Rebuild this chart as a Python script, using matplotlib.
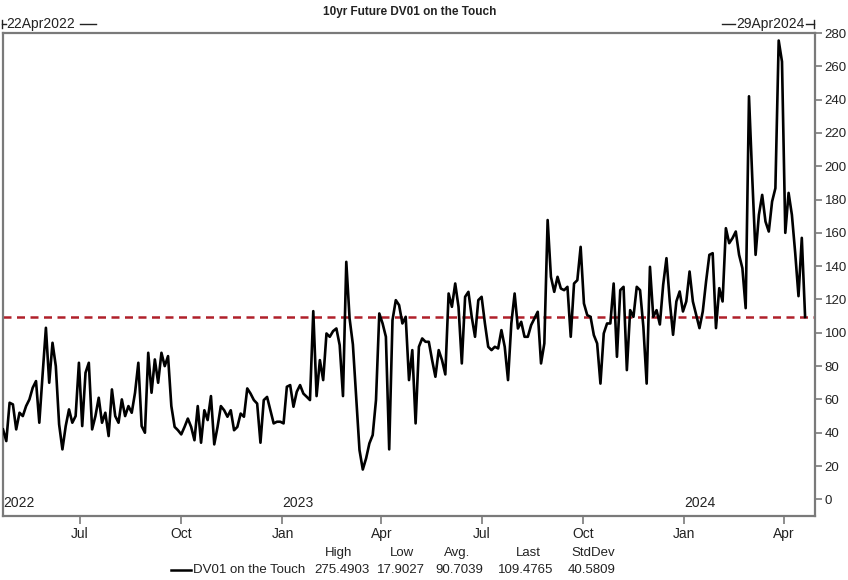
import matplotlib
matplotlib.use("Agg")
import matplotlib.pyplot as plt
import matplotlib.dates as mdates
import matplotlib.transforms as mtransforms
from matplotlib.lines import Line2D
import pandas as pd

plt.rcParams['font.family'] = ['Liberation Sans', 'DejaVu Sans']

# ---------------- data ----------------
title = "10yr Future DV01 on the Touch"
series_name = "DV01 on the Touch"
start_date = "2022-04-22"
axis_start = "2022-04-22"
axis_end = "2024-04-29"
left_range_label = "22Apr2022"
right_range_label = "29Apr2024"

values = [
    42, 35, 58, 57, 42, 52, 50, 56, 60, 67,
    71, 46, 75, 103, 70, 94, 80, 45, 30, 44,
    54, 46, 50, 82, 44, 76, 82, 42, 50, 61,
    46, 52, 38, 66, 50, 46, 60, 50, 56, 52,
    64, 82, 44, 40, 88, 64, 84, 70, 88, 80,
    86, 56, 43.5, 41.5, 39, 43.5, 48.5, 43.5, 35.5, 56,
    34, 53.5, 47.6, 62, 33, 43.5, 56, 53.5, 49.6, 53.5,
    41.5, 43.5, 51.5, 49.6, 66.6, 63.5, 59.6, 57.5, 34, 59.6,
    61.5, 53.5, 45.6, 46.6, 46.6, 45.6, 67.6, 68.6, 55.6, 64.6,
    68.6, 63.5, 61.6, 59.6, 113, 62, 83.6, 71.6, 99.6, 97.6,
    101, 102.6, 92.6, 62, 142.6, 108.6, 93, 61.6, 29.6, 17.9027,
    24.6, 33.6, 38.6, 59.6, 111.6, 105.6, 97.6, 30, 107.6, 119.6,
    116.6, 105.6, 109.6, 71.6, 89.6, 45.6, 91.6, 96.6, 94.6, 94.6,
    83.6, 73.6, 89.6, 83.6, 75, 123.6, 115.6, 129.6, 115.6, 81.6,
    121.6, 124.6, 109.6, 97.6, 119.6, 121.6, 105.6, 91.6, 89.6, 91.6,
    90.6, 101.6, 91.6, 71.6, 105.6, 123.6, 102.6, 106.6, 97.6, 97.6,
    104.6, 108.6, 112.6, 81.6, 93.6, 167.7, 133.6, 124.6, 133.6, 126.6,
    125.6, 127.6, 97.6, 129.6, 131.6, 151.6, 117.6, 110.6, 109.6, 98.6,
    93.6, 69.5, 99.6, 105.6, 105.6, 129.6, 85.6, 125.6, 127.6, 77.6,
    113.6, 109.6, 127.6, 125.6, 103.6, 69.5, 139.6, 109.6, 113.6, 105,
    128.8, 144.8, 118.8, 98.8, 118.8, 124.8, 112.8, 118.8, 136.8, 118.8,
    110.8, 102.8, 112.8, 130.8, 146.8, 147.8, 102.8, 126.8, 118.8, 162.8,
    153.8, 156.8, 160.8, 146.8, 138.8, 114.8, 242, 192.8, 146.8, 170.8,
    182.8, 166.8, 160.8, 178.8, 186.8, 275.4903, 262.8, 160, 184, 170.8,
    148, 122, 157, 109.4765,
]
dates = pd.date_range(start_date, periods=len(values), freq="3D")

reference_level = 109.4765
y_ticks = list(range(0, 281, 20))
years = [2022, 2023, 2024]
stat_names = ["High", "Low", "Avg.", "Last", "StdDev"]
stat_values = ["275.4903", "17.9027", "90.7039", "109.4765", "40.5809"]

# ---------------- figure ----------------
W, H = 848, 580
fig = plt.figure(figsize=(W / 100, H / 100), dpi=100)
fig.patch.set_facecolor("white")


def fx(px):
    return px / W


def fy(py):
    return 1 - py / H


ax_l, ax_r, ax_t, ax_b = 3, 815, 33, 516
ax = fig.add_axes([fx(ax_l), fy(ax_b), fx(ax_r - ax_l), (ax_b - ax_t) / H])

spine_col = "#7a7a7a"
text_col = "#222222"

ax.plot(dates, values, color="black", lw=1.9, solid_joinstyle="round", zorder=3)
ax.axhline(reference_level, color="#b0202a", lw=1.8, ls=(0, (3.2, 2.2)), zorder=2)

ax.set_xlim(pd.Timestamp(axis_start), pd.Timestamp(axis_end))
ax.set_ylim(-10, 280)

ax.yaxis.tick_right()
ax.set_yticks(y_ticks)
ax.tick_params(axis="y", which="both", direction="out", length=5, width=1.2,
               color=spine_col, labelsize=9.5, labelcolor=text_col, pad=2)

ax.xaxis.set_major_locator(mdates.MonthLocator(bymonth=[1, 4, 7, 10]))
ax.xaxis.set_major_formatter(mdates.DateFormatter("%b"))
ax.tick_params(axis="x", which="both", direction="out", length=6, width=1.2,
               color=spine_col, labelsize=10, labelcolor=text_col, pad=2)

for s in ax.spines.values():
    s.set_color(spine_col)
    s.set_linewidth(1.6)

# year labels inside the axes at the bottom
trans = mtransforms.blended_transform_factory(ax.transData, ax.transAxes)
x0 = pd.Timestamp(axis_start)
for yr in years:
    xd = max(pd.Timestamp(f"{yr}-01-01"), x0)
    ax.text(mdates.date2num(xd), 0.012, str(yr), transform=trans,
            ha="left", va="bottom", fontsize=10, color=text_col)

# title
fig.text(fx(410), fy(12), title, ha="center", va="center",
         fontsize=8.5, fontweight="bold", color=text_col)

# range labels above the axes
ry = fy(24)
fig.add_artist(Line2D([fx(2), fx(2)], [fy(20), fy(28)], color=text_col, lw=1))
fig.add_artist(Line2D([fx(2), fx(6)], [ry, ry], color=text_col, lw=1))
fig.text(fx(6), ry, left_range_label, ha="left", va="center", fontsize=10, color=text_col)
fig.add_artist(Line2D([fx(80), fx(96)], [ry, ry], color=text_col, lw=1))

fig.add_artist(Line2D([fx(722), fx(735)], [ry, ry], color=text_col, lw=1))
fig.text(fx(805), ry, right_range_label, ha="right", va="center", fontsize=10, color=text_col)
fig.add_artist(Line2D([fx(806), fx(814)], [ry, ry], color=text_col, lw=1))
fig.add_artist(Line2D([fx(814), fx(814)], [fy(20), fy(28)], color=text_col, lw=1))

# legend with statistics
ly_head, ly_val = fy(553), fy(570)
fig.add_artist(Line2D([fx(171), fx(191)], [ly_val, ly_val], color="black", lw=1.8))
fig.text(fx(193), ly_val, series_name, ha="left", va="center", fontsize=9.5,
         color=text_col)
value_centers = [342, 401, 459, 526, 592]
head_centers = [339, 402, 457, 528, 593]
for name, val, xv, xh in zip(stat_names, stat_values, value_centers, head_centers):
    fig.text(fx(xv), ly_val, val, ha="center", va="center", fontsize=9.5, color=text_col)
    fig.text(fx(xh), ly_head, name, ha="center", va="center", fontsize=9.5, color=text_col)

fig.savefig("out.png", dpi=100, facecolor="white")
